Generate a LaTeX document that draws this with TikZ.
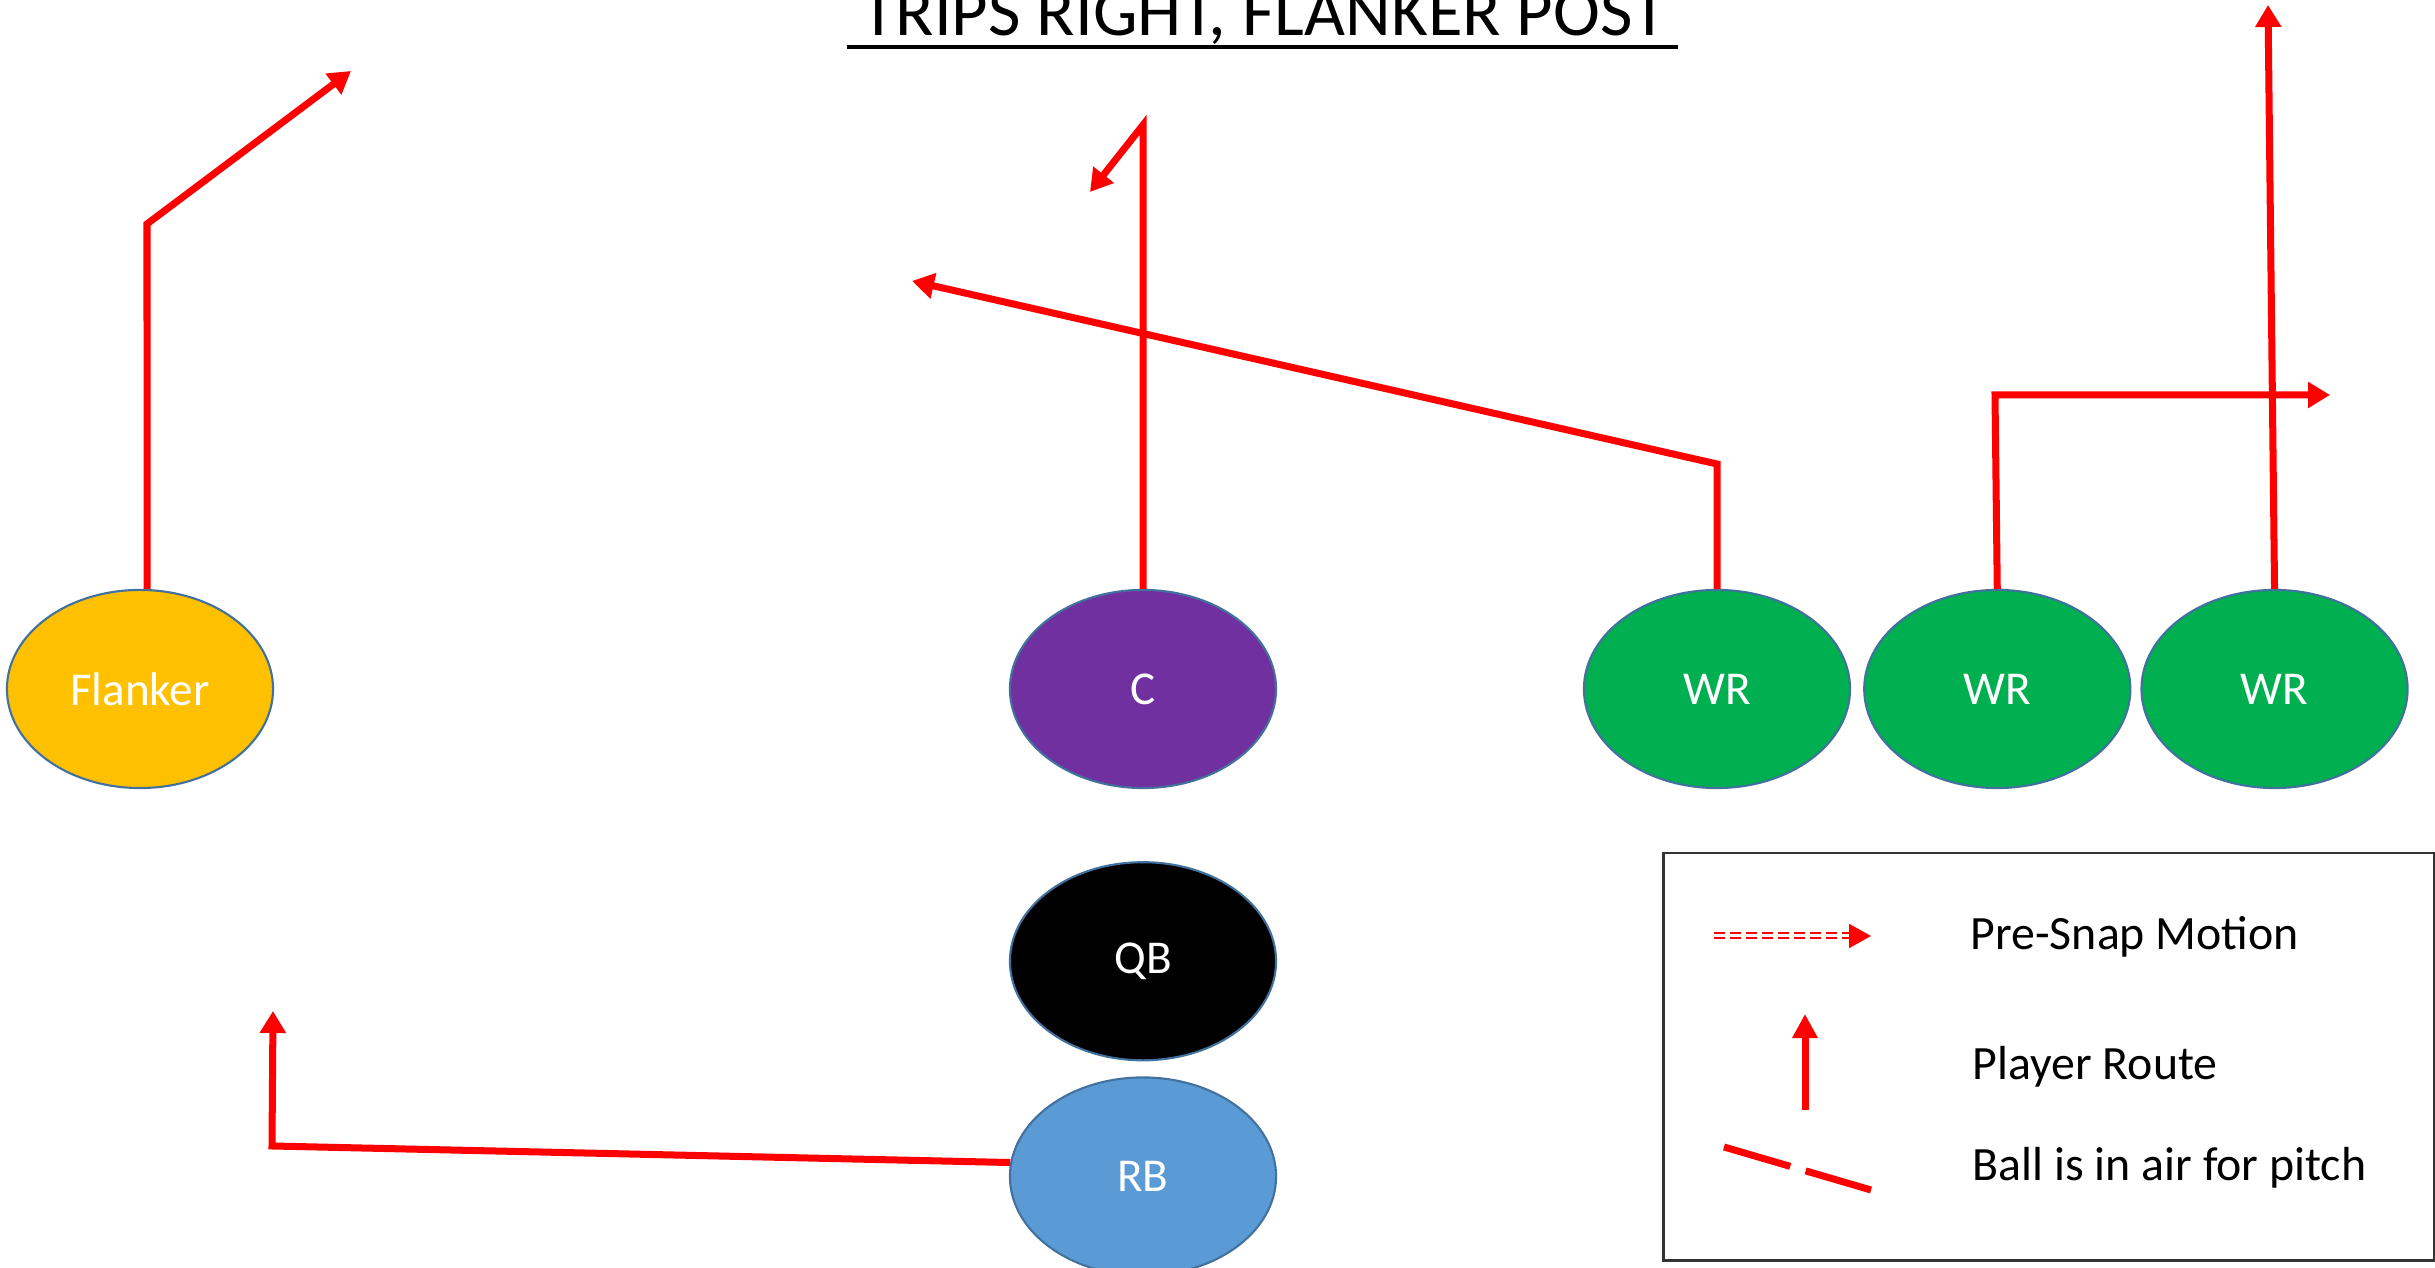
\documentclass[tikz,border=0pt]{standalone}
\usepackage{fontspec}
\setmainfont{Carlito}
\usetikzlibrary{arrows.meta,positioning,shapes.geometric,calc}
\definecolor{routered}{HTML}{FF0000}
\definecolor{rim}{HTML}{41719C}
\definecolor{flank}{HTML}{FFC000}
\definecolor{snapper}{HTML}{7030A0}
\definecolor{recv}{HTML}{00B050}
\definecolor{back}{HTML}{5B9BD5}
\tikzset{player/.style={ellipse,draw=rim,line width=0.6pt,minimum width=2.66cm,minimum height=1.98cm,inner sep=0pt,text=white,font=\fontsize{13.4}{15}\selectfont}, routeline/.style={draw=routered,line width=0.07cm,-{Triangle[length=0.22cm,width=0.25cm]}},legtext/.style={anchor=base west,inner sep=0pt,font=\fontsize{13.6}{16}\selectfont}}

\begin{document}
\begin{tikzpicture}[x=0.01cm,y=-0.01cm]
\useasboundingbox (0,0) rectangle (2435,1268);
\node[anchor=base,inner sep=0pt,font=\fontsize{20.1}{24}\selectfont](title) at (1264,36){TRIPS RIGHT, FLANKER POST};
\draw[line width=0.033cm]($(title.base west)+(-14,11)$)--($(title.base east)+(11,11)$);
\node[player,fill=flank](fl) at (140,689){Flanker};\node[player,fill=snapper](c) at (1143,689){C};
\node[player,fill=black,below=0.72cm of c](qb){QB};\node[player,fill=back,below=0.15cm of qb](rb){RB};
\node[player,fill=recv](wr1) at (1717,689){WR};\node[player,fill=recv,right=0.12cm of wr1](wr2){WR};
\node[player,fill=recv,right=0.09cm of wr2](wr3){WR};
\coordinate(flturn) at (147,224);\coordinate(fltip) at (351,71);
\coordinate(ctop) at (1143,125);\coordinate(ctip) at (1090,192);
\coordinate(wr1turn) at (1717,464);\coordinate(wr1tip) at (912,281);
\coordinate(wr2turn) at (1995,395);\coordinate(wr2tip) at (2330,395);
\coordinate(wr3tip) at (2268,5);
\coordinate(rbturn) at (272,1146);\coordinate(rbtip) at (273,1011);
\draw[routeline]([xshift=0.07cm]fl.north)--(flturn)--(fltip);
\draw[routeline](c.north)--(ctop)--(ctip);
\draw[routeline](wr1.north)--(wr1turn)--(wr1tip);
\draw[routeline](wr2.north)--(wr2turn)--(wr2tip);
\draw[routeline](wr3.north)--(wr3tip);
\draw[routeline](rb.174)--(rbturn)--(rbtip);
\node[draw=black!80,line width=0.025cm,minimum width=7.71cm,minimum height=4.07cm,inner sep=0pt,anchor=north west](legend) at (1662,852){};
\coordinate(ma) at (1714,936);\coordinate(mb) at (1849,936);\coordinate(mc) at (1871,936);
\draw[routered,line width=0.02cm,double=white,double distance=0.03cm,dash pattern=on 0.11cm off 0.05cm](ma)--(mb);
\draw[routered,line width=0.02cm,-{Triangle[length=0.22cm,width=0.24cm]}](mb)--(mc);
\coordinate(pa) at (1805,1110);\coordinate(pb) at (1805,1014);
\draw[routeline,-{Triangle[length=0.24cm,width=0.24cm]}](pa)--(pb);
\coordinate(ba) at (1724,1147);\coordinate(bb) at (1871,1190);
\draw[routered,line width=0.07cm,dash pattern=on 0.69cm off 0.16cm](ba)--(bb);
\node[legtext](lm) at (1970,950){Pre-Snap Motion};
\node[legtext](lr) at (1972,1080){Player Route};
\node[legtext](lb) at (1972,1181){Ball is in air for pitch};
\end{tikzpicture}
\end{document}
